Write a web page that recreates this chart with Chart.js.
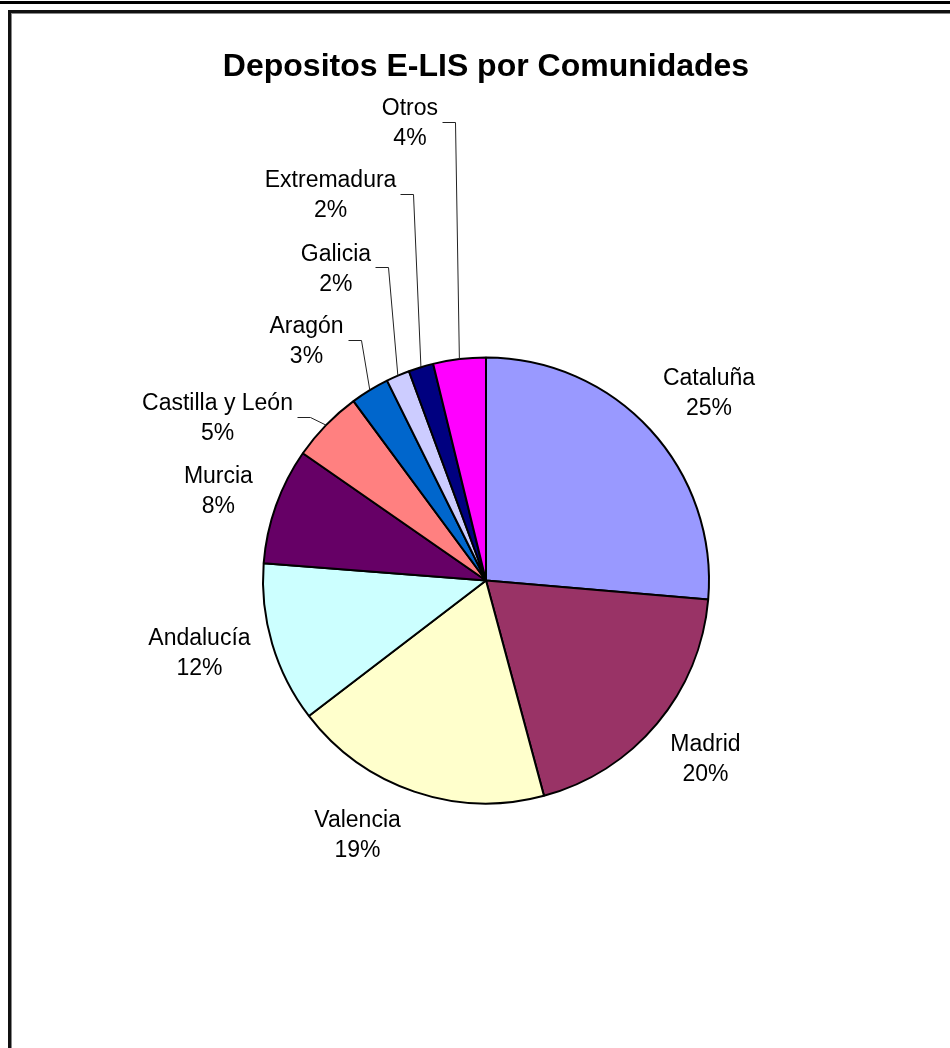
<!DOCTYPE html>
<html>
<head>
<meta charset="utf-8">
<script src="https://cdn.jsdelivr.net/npm/chart.js@4.4.1/dist/chart.umd.min.js"></script>
<style>
  html, body { margin: 0; padding: 0; background: #fff; overflow: hidden; }
  body { width: 950px; height: 1048px; position: relative; }
  .lineaTop { position: absolute; left: 0; top: 1px; width: 950px; height: 3px; background: #000; }
  .marco { position: absolute; left: 8px; top: 10px; width: 1000px; height: 1100px;
           border-left: 3px solid #111; border-top: 3px solid #111; box-shadow: inset 1px 1px 0 #888; }
  #grafico { position: absolute; left: 0; top: 0; }
</style>
</head>
<body>
<div class="lineaTop"></div>
<div class="marco"></div>
<canvas id="grafico" width="950" height="1048"></canvas>
<script>
const comunidades = ['Cataluña', 'Madrid', 'Valencia', 'Andalucía', 'Murcia',
  'Castilla y León', 'Aragón', 'Galicia', 'Extremadura', 'Otros'];
// tamaño de cada sector
const valores = [26.3, 19.4, 18.75, 11.6, 8.4, 5.2, 2.8, 1.7, 1.8, 3.8];
// porcentajes tal como se imprimen en las etiquetas
const porcentajes = [25, 20, 19, 12, 8, 5, 3, 2, 2, 4];
const colores = ['#9999FF', '#993366', '#FFFFCC', '#CCFFFF', '#660066',
  '#FF8080', '#0066CC', '#CCCCFF', '#000080', '#FF00FF'];

// etiquetas: centro del texto respecto al centro del pastel (en radios) y si llevan linea guia
const etiquetasPlugin = {
  id: 'etiquetas',
  afterDatasetsDraw(chart, args, opts) {
    const ctx = chart.ctx;
    const meta = chart.getDatasetMeta(0);
    ctx.save();
    ctx.font = opts.font;
    ctx.fillStyle = '#000';
    ctx.strokeStyle = '#222';
    ctx.lineWidth = 1;
    ctx.textAlign = 'center';
    ctx.textBaseline = 'middle';
    meta.data.forEach((arc, i) => {
      const pos = opts.posiciones[i];
      const r = arc.outerRadius;
      const cx = arc.x + pos[0] * r;
      const cy = arc.y + pos[1] * r;
      const lineas = [comunidades[i], porcentajes[i] + '%'];
      lineas.forEach((t, k) => ctx.fillText(t, cx, cy + 2 + (k - 0.5) * opts.lineHeight));
      if (pos[2]) {
        const w = Math.max(...lineas.map(t => ctx.measureText(t).width));
        const x0 = Math.round(cx + w / 2 + 4) + 0.5;
        const y0 = Math.round(cy) + 0.5;
        const mid = (arc.startAngle + arc.endAngle) / 2;
        const ex = arc.x + Math.cos(mid) * r;
        const ey = arc.y + Math.sin(mid) * r;
        ctx.beginPath();
        ctx.moveTo(x0, y0);
        ctx.lineTo(x0 + 13, y0);
        ctx.lineTo(ex, ey);
        ctx.stroke();
      }
    });
    ctx.restore();
  }
};

const ctx = document.getElementById('grafico').getContext('2d');
new Chart(ctx, {
  type: 'pie',
  data: {
    labels: comunidades,
    datasets: [{
      data: valores,
      backgroundColor: colores,
      borderColor: '#000',
      borderWidth: 2,
      hoverOffset: 0
    }]
  },
  options: {
    responsive: false,
    animation: false,
    radius: 223,
    layout: { padding: { top: 48, left: 22, right: 0, bottom: 0 } },
    plugins: {
      legend: { display: false },
      tooltip: { enabled: false },
      title: {
        display: true,
        text: 'Depositos E-LIS por Comunidades',
        color: '#000',
        font: { family: "'Liberation Sans', Arial, sans-serif", size: 32, weight: 'bold', lineHeight: 1.2 },
        padding: { top: 0, bottom: 26.6 }
      },
      etiquetas: {
        font: "23px 'Liberation Sans', Arial, sans-serif",
        lineHeight: 30,
        posiciones: [
          [1.0, -0.848, false],
          [0.984, 0.796, false],
          [-0.576, 1.137, false],
          [-1.285, 0.318, false],
          [-1.2, -0.406, false],
          [-1.204, -0.735, true],
          [-0.805, -1.078, true],
          [-0.673, -1.404, true],
          [-0.697, -1.733, true],
          [-0.341, -2.058, true]
        ]
      }
    }
  },
  plugins: [etiquetasPlugin]
});
</script>
</body>
</html>
